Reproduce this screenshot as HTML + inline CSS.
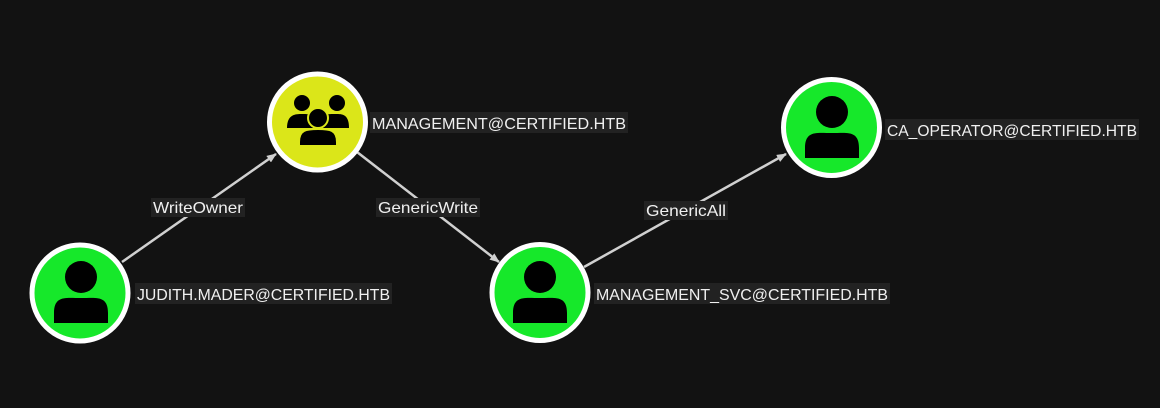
<!DOCTYPE html>
<html><head><style>
html,body{margin:0;padding:0;background:#121212;}
svg{display:block;}
text{font-family:"Liberation Sans",sans-serif;fill:#f0f0f0;}
</style></head><body>
<svg width="1160" height="408" viewBox="0 0 1160 408">
<defs>
<marker id="a" markerWidth="10" markerHeight="8" refX="9" refY="4" orient="auto" markerUnits="userSpaceOnUse">
<path d="M0,0 L10,4 L0,8 z" fill="#d0d0d0"/>
</marker>
<g id="person">
<circle cx="0" cy="-16" r="16" fill="#000"/>
<path d="M-27,30 L-27,20 C-27,2 -15,5 0,5 C15,5 27,2 27,20 L27,30 Z" fill="#000"/>
</g>
</defs>
<g stroke="#d0d0d0" stroke-width="2.5" fill="none">
<line x1="122" y1="262" x2="276" y2="154" marker-end="url(#a)"/>
<line x1="357" y1="152" x2="499" y2="262" marker-end="url(#a)"/>
<line x1="584" y1="267" x2="786" y2="154" marker-end="url(#a)"/>
</g>
<rect x="151" y="198" width="94" height="19" fill="#222"/>
<text x="153" y="213" font-size="16" textLength="90" lengthAdjust="spacingAndGlyphs">WriteOwner</text>
<rect x="376" y="198" width="104" height="19" fill="#222"/>
<text x="378" y="213" font-size="16" textLength="100" lengthAdjust="spacingAndGlyphs">GenericWrite</text>
<rect x="644" y="201" width="84" height="19" fill="#222"/>
<text x="646" y="216" font-size="16" textLength="80" lengthAdjust="spacingAndGlyphs">GenericAll</text>
<circle cx="80" cy="293" r="48" fill="#16e82a" stroke="#fff" stroke-width="5"/>
<use href="#person" x="81" y="293"/>
<circle cx="317.5" cy="122" r="48" fill="#dbe619" stroke="#fff" stroke-width="5"/>
<g fill="#000">
<circle cx="302" cy="103" r="8"/>
<circle cx="337" cy="103" r="8"/>
<path d="M287,128 C287,114 296,114 302,114 C308,114 314,114 316,120 L316,128 Z"/>
<path d="M319,120 C321,114 326,114 337,114 C343,114 349,115 349,128 L319,128 Z"/>
<circle cx="318" cy="118" r="10" stroke="#dbe619" stroke-width="2"/>
<path d="M299,146 L299,142 C299,130 306,129 318,129 C330,129 337,130 337,142 L337,146 Z" stroke="#dbe619" stroke-width="2"/>
</g>
<circle cx="540" cy="292.5" r="48" fill="#16e82a" stroke="#fff" stroke-width="5"/>
<use href="#person" x="540" y="293"/>
<circle cx="831.5" cy="127.5" r="48" fill="#16e82a" stroke="#fff" stroke-width="5"/>
<use href="#person" x="832" y="128"/>
<rect x="135" y="283" width="257" height="21" fill="#222"/>
<text x="137" y="300" font-size="16" textLength="253" lengthAdjust="spacingAndGlyphs">JUDITH.MADER@CERTIFIED.HTB</text>
<rect x="370" y="112" width="258" height="21" fill="#222"/>
<text x="372" y="129" font-size="16" textLength="254" lengthAdjust="spacingAndGlyphs">MANAGEMENT@CERTIFIED.HTB</text>
<rect x="594" y="283" width="296" height="21" fill="#222"/>
<text x="596" y="300" font-size="16" textLength="292" lengthAdjust="spacingAndGlyphs">MANAGEMENT_SVC@CERTIFIED.HTB</text>
<rect x="885" y="119" width="254" height="21" fill="#222"/>
<text x="887" y="136" font-size="16" textLength="250" lengthAdjust="spacingAndGlyphs">CA_OPERATOR@CERTIFIED.HTB</text>
</svg>
</body></html>
